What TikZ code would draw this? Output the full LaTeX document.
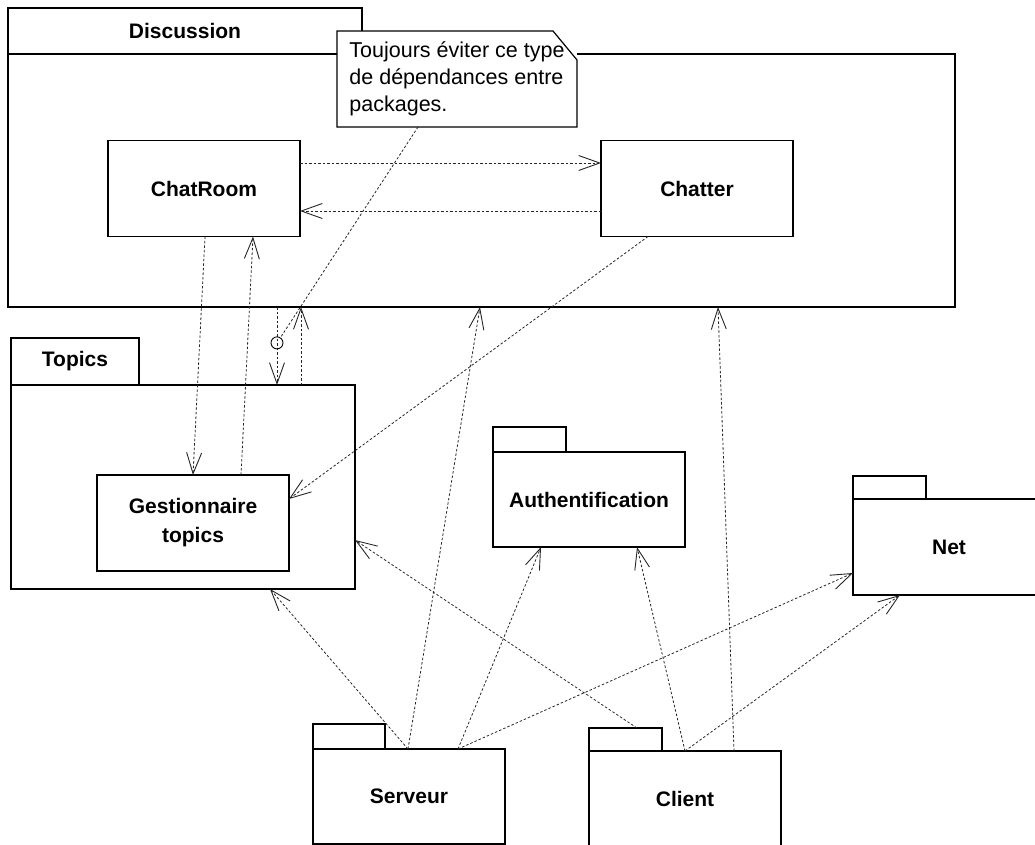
\documentclass[tikz,border=0pt]{standalone}
\usepackage{fontspec}
\setmainfont{Liberation Sans}
\usetikzlibrary{positioning, arrows.meta}

\begin{document}
\begin{tikzpicture}[x=1pt, y=-1pt,
    pkg/.style={draw, line width=1.2pt, fill=white, inner sep=0pt, outer sep=0pt, font=\fontsize{21}{29}\selectfont\bfseries},
    pkgtab/.style={pkg, anchor=south west},
    cls/.style={draw, line width=1.2pt, minimum width=192pt, minimum height=96pt, inner sep=0pt, outer sep=0pt, align=center, font=\fontsize{21}{29}\selectfont\bfseries},
    dep/.style={draw=black!85, line width=0.8pt, dash pattern=on 2.5pt off 2pt, -{Straight Barb[length=21pt,width=15pt,line width=0.9pt]}},
    anchorline/.style={draw=black!85, line width=0.8pt, dash pattern=on 2.5pt off 2pt},
    notebox/.style={fill=white, minimum width=240pt, minimum height=96pt, inner sep=0pt, outer sep=0pt, align=left, font=\fontsize{21.5}{27}\selectfont},
    circ/.style={draw=black, solid, line width=0.9pt, circle, minimum size=12pt, inner sep=0pt}]
    \useasboundingbox (0,0) rectangle (1035,845);
    \clip (0,0) rectangle (1035,845);
    \node[pkg, minimum width=947pt, minimum height=253pt] (Discussion) at (481.5,180.5) {};
    \node[pkgtab, minimum width=354pt, minimum height=46pt] (DiscussionTab) at (Discussion.north west) {Discussion};
    \node[cls] (ChatRoom) at (204,188.5) {ChatRoom};
    \node[cls] (Chatter) at (697,188.5) {Chatter};
    \node[pkg, minimum width=344pt, minimum height=204pt] (Topics) at (183,487) {};
    \node[pkgtab, minimum width=128pt, minimum height=47pt] (TopicsTab) at (Topics.north west) {Topics};
    \node[cls] (Gestionnaire) at (193,523) {Gestionnaire\\topics};
    \node[pkg, minimum width=192pt, minimum height=95pt] (Authentification) at (589,499.5) {Authentification};
    \node[pkgtab, minimum width=73pt, minimum height=25pt] (AuthentificationTab) at (Authentification.north west) {};
    \node[pkg, minimum width=192pt, minimum height=96pt] (Net) at (949,547) {Net};
    \node[pkgtab, minimum width=73pt, minimum height=23pt] (NetTab) at (Net.north west) {};
    \node[pkg, minimum width=192pt, minimum height=95pt] (Serveur) at (409,796.5) {Serveur};
    \node[pkgtab, minimum width=72pt, minimum height=25pt] (ServeurTab) at (Serveur.north west) {};
    \node[pkg, minimum width=192pt, minimum height=96pt] (Client) at (685,799) {Client};
    \node[pkgtab, minimum width=73pt, minimum height=23pt] (ClientTab) at (Client.north west) {};
    \draw[dep] ([yshift=25.5pt]ChatRoom.east) -- ([yshift=25.5pt]Chatter.west);
    \draw[dep] ([yshift=-22.5pt]Chatter.west) -- ([yshift=-22.5pt]ChatRoom.east);
    \draw[dep] ([xshift=1pt]ChatRoom.south) -- (Gestionnaire.north);
    \draw[dep] ([xshift=48pt]Gestionnaire.north) -- ([xshift=49pt]ChatRoom.south);
    \draw[dep] ([xshift=-49pt]Chatter.south) -- ([yshift=24pt]Gestionnaire.east);
    \draw[dep] ([xshift=-204.5pt]Discussion.south) -- node[circ, pos=0.46] (Anchor) {} ([xshift=94pt]Topics.north);
    \draw[dep] ([xshift=118pt]Topics.north) -- ([xshift=-180.5pt]Discussion.south);
    \draw[dep] ([xshift=-1pt]Serveur.north) -- ([xshift=87pt]Topics.south);
    \draw[dep] ([xshift=-1pt]Serveur.north) -- ([xshift=-1.5pt]Discussion.south);
    \draw[dep] ([xshift=49pt]Serveur.north) -- ([xshift=-48pt]Authentification.south);
    \draw[dep] ([xshift=49pt]Serveur.north) -- ([yshift=-26pt]Net.west);
    \draw[dep] ([xshift=11.5pt]ClientTab.north) -- ([yshift=-53pt]Topics.east);
    \draw[dep] (Client.north) -- ([xshift=48pt]Authentification.south);
    \draw[dep] (Client.north) -- ([xshift=-49pt]Net.south);
    \draw[dep] ([xshift=49pt]Client.north) -- ([xshift=236.5pt]Discussion.south);
    \node[notebox] (Note) at (457,79) {Toujours éviter ce type\\de dépendances entre\\packages.};
    \draw[line width=1.2pt] (Note.north west) -- ([xshift=-24pt]Note.north east) -- ([yshift=-29pt]Note.north east) -- (Note.south east) -- (Note.south west) -- cycle;
    \draw[anchorline] ([xshift=-39pt]Note.south) -- (Anchor);
\end{tikzpicture}
\end{document}
